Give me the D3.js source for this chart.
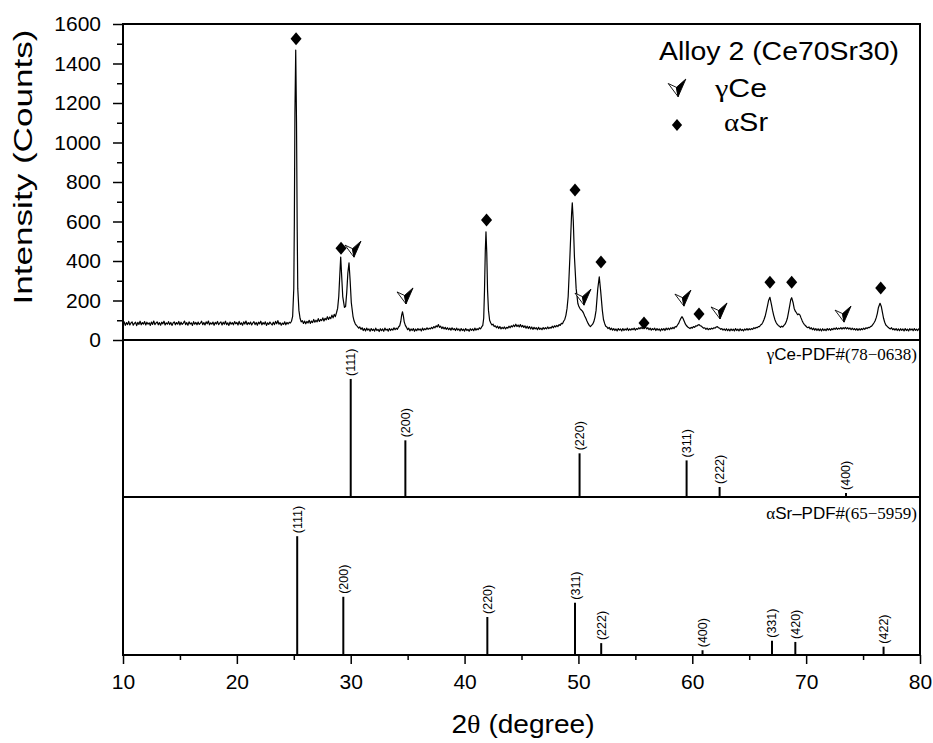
<!DOCTYPE html>
<html>
<head>
<meta charset="utf-8">
<script src="https://cdn.jsdelivr.net/npm/d3@7/dist/d3.min.js"></script>
<style>
  html, body { margin: 0; padding: 0; background: #fff; }
  svg { display: block; }
</style>
</head>
<body>
<svg id="chart" width="933" height="743"></svg>
<script>
// ---------------- DATA ----------------
// Measured XRD pattern, [2θ (deg), counts]
const patternPoints = [
  [10.0,80],[10.1,92],[10.2,74],[10.3,88],[10.4,78],[10.5,94],[10.6,76],[10.7,86],[10.8,92],[10.9,75],
  [11.0,84],[11.1,90],[11.2,73],[11.3,89],[11.4,79],[11.5,95],[11.6,77],[11.7,88],[11.8,81],[11.9,93],
  [12.0,76],[12.1,90],[12.2,80],[12.3,87],[12.4,74],[12.5,91],[12.6,79],[12.7,96],[12.8,78],[12.9,86],
  [13.0,92],[13.1,77],[13.2,88],[13.3,75],[13.4,90],[13.5,82],[13.6,95],[13.7,76],[13.8,87],[13.9,80],
  [14.0,93],[14.1,78],[14.2,89],[14.3,74],[14.4,86],[14.5,92],[14.6,77],[14.7,88],[14.8,80],[14.9,94],
  [15.0,76],[15.1,90],[15.2,79],[15.3,86],[15.4,96],[15.5,78],[15.6,88],[15.7,75],[15.8,92],[15.9,81],
  [16.0,87],[16.1,74],[16.2,93],[16.3,80],[16.4,89],[16.5,77],[16.6,91],[16.7,79],[16.8,86],[16.9,95],
  [17.0,78],[17.1,88],[17.2,76],[17.3,92],[17.4,82],[17.5,96],[17.6,77],[17.7,87],[17.8,80],[17.9,91],
  [18.0,75],[18.1,89],[18.2,81],[18.3,94],[18.4,78],[18.5,86],[18.6,92],[18.7,76],[18.8,90],[18.9,80],
  [19.0,95],[19.1,78],[19.2,87],[19.3,74],[19.4,91],[19.5,80],[19.6,88],[19.7,77],[19.8,93],[19.9,82],
  [20.0,89],[20.1,76],[20.2,94],[20.3,79],[20.4,87],[20.5,75],[20.6,92],[20.7,81],[20.8,96],[20.9,78],
  [21.0,88],[21.1,80],[21.2,91],[21.3,76],[21.4,86],[21.5,93],[21.6,78],[21.7,89],[21.8,75],[21.9,90],
  [22.0,82],[22.1,95],[22.2,77],[22.3,88],[22.4,80],[22.5,92],[22.6,74],[22.7,87],[22.8,79],[22.9,91],
  [23.0,83],[23.1,76],[23.2,90],[23.3,78],[23.4,94],[23.5,82],[23.6,98],[23.7,80],[23.8,88],[23.9,75],
  [24.0,86],[24.1,79],[24.2,92],[24.3,77],[24.4,89],[24.5,81],[24.6,90],[24.7,86],[24.8,95],[24.9,120],
  [25.0,260],[25.05,600],[25.1,1150],[25.17,1468],[25.24,1100],[25.3,560],[25.35,260],[25.45,150],
  [25.55,110],[25.65,92],[25.75,98],[25.85,84],[25.95,96],[26.05,82],[26.15,94],[26.25,86],[26.35,100],
  [26.45,84],[26.55,96],[26.65,88],[26.75,104],[26.85,90],[26.95,100],[27.05,92],[27.15,108],[27.25,94],
  [27.35,104],[27.45,98],[27.55,112],[27.65,96],[27.75,110],[27.85,102],[27.95,118],[28.05,104],[28.15,116],
  [28.25,108],[28.35,126],[28.45,112],[28.55,130],[28.65,118],[28.75,138],[28.85,160],[28.95,220],[29.05,340],
  [29.12,420],[29.2,330],[29.3,220],[29.45,165],[29.55,170],[29.65,240],[29.75,340],[29.85,391],[29.95,300],
  [30.05,190],[30.2,120],[30.3,96],[30.4,82],[30.5,74],[30.6,68],[30.7,60],[30.8,66],[30.9,54],[31.0,62],
  [31.1,48],[31.2,58],[31.3,46],[31.4,60],[31.5,50],[31.6,56],[31.7,44],[31.8,58],[31.9,48],[32.0,55],
  [32.1,45],[32.2,60],[32.3,48],[32.4,54],[32.5,43],[32.6,57],[32.7,47],[32.8,56],[32.9,44],[33.0,60],
  [33.1,50],[33.2,55],[33.3,45],[33.4,58],[33.5,48],[33.6,56],[33.7,50],[33.8,62],[33.9,52],[34.0,60],
  [34.1,54],[34.2,66],[34.3,72],[34.4,95],[34.47,125],[34.55,143],[34.63,120],[34.7,92],[34.8,74],[34.9,64],
  [35.0,52],[35.1,60],[35.2,46],[35.3,56],[35.4,48],[35.5,58],[35.6,44],[35.7,55],[35.8,47],[35.9,58],
  [36.0,50],[36.1,56],[36.2,46],[36.3,60],[36.4,50],[36.5,57],[36.6,52],[36.7,62],[36.8,54],[36.9,60],
  [37.0,56],[37.1,64],[37.2,58],[37.3,68],[37.4,62],[37.5,72],[37.6,66],[37.7,78],[37.8,64],[37.9,70],
  [38.0,58],[38.1,66],[38.2,56],[38.3,64],[38.4,54],[38.5,62],[38.6,52],[38.7,60],[38.8,50],[38.9,62],
  [39.0,52],[39.1,58],[39.2,48],[39.3,60],[39.4,50],[39.5,56],[39.6,46],[39.7,58],[39.8,48],[39.9,55],
  [40.0,45],[40.1,58],[40.2,48],[40.3,54],[40.4,44],[40.5,57],[40.6,49],[40.7,56],[40.8,47],[40.9,60],
  [41.0,50],[41.1,57],[41.2,52],[41.3,62],[41.4,56],[41.5,66],[41.6,74],[41.68,110],[41.75,250],[41.82,450],
  [41.88,548],[41.95,440],[42.02,250],[42.1,150],[42.2,100],[42.3,86],[42.4,76],[42.5,80],[42.6,68],[42.7,72],
  [42.8,62],[42.9,70],[43.0,58],[43.1,68],[43.2,56],[43.3,64],[43.4,58],[43.5,66],[43.6,56],[43.7,64],
  [43.8,60],[43.9,70],[44.0,62],[44.1,72],[44.2,66],[44.3,76],[44.4,68],[44.5,80],[44.6,68],[44.7,76],
  [44.8,66],[44.9,78],[45.0,66],[45.1,74],[45.2,64],[45.3,72],[45.4,60],[45.5,70],[45.6,58],[45.7,68],
  [45.8,56],[45.9,66],[46.0,54],[46.1,64],[46.2,56],[46.3,62],[46.4,52],[46.5,64],[46.6,54],[46.7,60],
  [46.8,52],[46.9,63],[47.0,55],[47.1,62],[47.2,56],[47.3,66],[47.4,58],[47.5,64],[47.6,60],[47.7,70],
  [47.8,62],[47.9,72],[48.0,66],[48.1,74],[48.2,68],[48.3,78],[48.4,74],[48.5,84],[48.6,82],[48.7,95],
  [48.8,104],[48.9,125],[49.0,160],[49.1,220],[49.25,420],[49.4,640],[49.46,695],[49.55,600],[49.65,420],
  [49.8,260],[49.95,185],[50.05,168],[50.15,158],[50.25,152],[50.35,146],[50.45,136],[50.55,122],[50.65,110],
  [50.75,96],[50.85,84],[50.95,74],[51.05,68],[51.15,74],[51.25,80],[51.35,92],[51.45,115],[51.55,150],
  [51.7,260],[51.83,320],[51.95,250],[52.1,150],[52.2,104],[52.3,84],[52.4,70],[52.5,66],[52.6,58],[52.7,64],
  [52.8,52],[52.9,60],[53.0,50],[53.1,58],[53.2,48],[53.3,56],[53.4,46],[53.5,58],[53.6,50],[53.7,56],
  [53.8,46],[53.9,58],[54.0,48],[54.1,56],[54.2,50],[54.3,60],[54.4,48],[54.5,56],[54.6,50],[54.7,58],
  [54.8,52],[54.9,60],[55.0,50],[55.1,58],[55.2,54],[55.3,62],[55.4,56],[55.5,64],[55.6,58],[55.7,66],
  [55.8,60],[55.9,66],[56.0,56],[56.1,62],[56.2,52],[56.3,60],[56.4,50],[56.5,58],[56.6,52],[56.7,60],
  [56.8,48],[56.9,58],[57.0,50],[57.1,56],[57.2,46],[57.3,57],[57.4,50],[57.5,58],[57.6,48],[57.7,60],
  [57.8,52],[57.9,60],[58.0,52],[58.1,62],[58.2,56],[58.3,64],[58.4,58],[58.5,68],[58.6,66],[58.7,76],
  [58.8,84],[58.9,98],[59.0,110],[59.1,118],[59.2,108],[59.3,94],[59.4,80],[59.5,72],[59.6,66],[59.7,62],
  [59.8,58],[59.9,64],[60.0,60],[60.1,68],[60.2,64],[60.3,72],[60.4,70],[60.5,76],[60.6,78],[60.7,72],
  [60.8,70],[60.9,64],[61.0,60],[61.1,62],[61.2,54],[61.3,60],[61.4,52],[61.5,58],[61.6,54],[61.7,60],
  [61.8,56],[61.9,62],[62.0,60],[62.1,66],[62.2,68],[62.3,62],[62.4,60],[62.5,54],[62.6,58],[62.7,50],
  [62.8,56],[62.9,48],[63.0,57],[63.1,47],[63.2,55],[63.3,46],[63.4,56],[63.5,48],[63.6,55],[63.7,46],
  [63.8,58],[63.9,48],[64.0,55],[64.1,46],[64.2,57],[64.3,48],[64.4,54],[64.5,46],[64.6,56],[64.7,50],
  [64.8,58],[64.9,50],[65.0,57],[65.1,52],[65.2,58],[65.3,54],[65.4,62],[65.5,58],[65.6,64],[65.7,62],
  [65.8,68],[65.9,68],[66.0,76],[66.1,80],[66.2,90],[66.3,104],[66.4,120],[66.5,145],[66.6,172],[66.7,200],
  [66.82,216],[66.95,180],[67.05,150],[67.15,125],[67.25,104],[67.35,90],[67.45,80],[67.55,74],[67.65,70],
  [67.75,64],[67.85,70],[67.95,66],[68.05,74],[68.15,80],[68.25,92],[68.35,110],[68.45,140],[68.55,172],
  [68.65,205],[68.73,214],[68.85,190],[68.95,160],[69.05,146],[69.15,138],[69.25,128],[69.35,132],[69.46,126],
  [69.55,112],[69.65,98],[69.75,86],[69.85,78],[69.95,72],[70.05,66],[70.15,62],[70.25,66],[70.35,56],
  [70.45,62],[70.55,52],[70.65,60],[70.75,50],[70.85,58],[70.95,48],[71.05,57],[71.15,47],[71.25,56],
  [71.35,46],[71.45,57],[71.55,48],[71.65,55],[71.75,47],[71.85,58],[71.95,50],[72.05,57],[72.15,49],
  [72.25,58],[72.35,52],[72.45,60],[72.55,54],[72.65,62],[72.75,54],[72.85,60],[72.95,56],[73.05,63],
  [73.15,55],[73.25,62],[73.35,57],[73.45,64],[73.55,56],[73.65,62],[73.75,55],[73.85,61],[73.95,52],
  [74.05,60],[74.15,52],[74.25,58],[74.35,50],[74.45,58],[74.55,49],[74.65,57],[74.75,50],[74.85,58],
  [74.95,52],[75.05,60],[75.15,54],[75.25,62],[75.35,58],[75.45,64],[75.55,62],[75.65,68],[75.75,70],
  [75.85,78],[75.95,86],[76.05,96],[76.15,112],[76.25,134],[76.35,165],[76.49,186],[76.6,170],[76.7,140],
  [76.8,110],[76.9,90],[77.0,76],[77.1,70],[77.2,64],[77.3,60],[77.4,56],[77.5,62],[77.6,52],[77.7,58],
  [77.8,50],[77.9,58],[78.0,48],[78.1,56],[78.2,47],[78.3,57],[78.4,49],[78.5,56],[78.6,46],[78.7,58],
  [78.8,48],[78.9,55],[79.0,46],[79.1,57],[79.2,50],[79.3,56],[79.4,47],[79.5,58],[79.6,49],[79.7,55],
  [79.8,48],[79.9,57],[80.0,52]
];

// Phase markers on the pattern: [2θ, marker height in counts]
const srMarkers = [[25.2,1525],[29.15,465],[41.93,607],[49.7,759],[51.98,395],[55.76,86],[60.59,132],[66.82,293],[68.73,293],[76.55,263]];
const ceMarkers = [[30.2,455],[34.77,218],[50.4,212],[59.18,207],[62.35,142],[73.24,126]];

// Reference patterns (PDF cards)
const ceHkl = ["(111)","(200)","(220)","(311)","(222)","(400)"];
const ceAngles = [30.0, 34.8, 50.1, 59.5, 62.4, 73.5];
const ceRel = [100, 48, 37, 31, 8.5, 3.4];

const srHkl = ["(111)","(200)","(220)","(311)","(222)","(400)","(331)","(420)","(422)"];
const srAngles = [25.3, 29.35, 42.0, 49.7, 52.0, 60.9, 67.0, 69.05, 76.8];
const srRel = [100, 49, 32, 44, 10, 4, 12, 11, 7];

const xTicks = [10, 20, 30, 40, 50, 60, 70, 80];
const yTicks = [0, 200, 400, 600, 800, 1000, 1200, 1400, 1600];

// ---------------- LAYOUT ----------------
const svg = d3.select("#chart");
const L = 123, R = 920;
const topY = 24, sep1 = 340, sep2 = 497, bot = 655;
const sans = "'Liberation Sans', Arial, Helvetica, sans-serif";
const serif = "'Liberation Serif', 'Times New Roman', serif";

const x = d3.scaleLinear().domain([10, 80]).range([L, R]);
const yTop = d3.scaleLinear().domain([0, 1600]).range([sep1, topY]);
const yMid = d3.scaleLinear().domain([0, 133]).range([sep2, sep1]);
const yBot = d3.scaleLinear().domain([0, 133]).range([bot, sep2]);

svg.append("defs").append("clipPath").attr("id", "clipTop")
  .append("rect").attr("x", L).attr("y", topY).attr("width", R - L).attr("height", sep1 - topY);

const line = d3.line().x(d => x(d[0])).y(d => yTop(d[1]));
svg.append("path")
  .datum(patternPoints)
  .attr("clip-path", "url(#clipTop)")
  .attr("d", line)
  .attr("fill", "none")
  .attr("stroke", "#000")
  .attr("stroke-width", 1.2)
  .attr("stroke-linejoin", "round");

function diamond(g, cx, cy, s) {
  g.append("path")
    .attr("d", `M${cx},${cy - s}L${cx + s * 0.85},${cy}L${cx},${cy + s}L${cx - s * 0.85},${cy}Z`)
    .attr("fill", "#000");
}
function ceSymbol(g, cx, cy, k) {
  const A = [cx - 8 * k, cy - 5 * k], B = [cx + 8 * k, cy - 9 * k], N = [cx - 0.5 * k, cy - 1.5 * k], T = [cx + 1 * k, cy + 7 * k];
  g.append("path")
    .attr("d", `M${A}L${N}L${T}Z`)
    .attr("fill", "#fff").attr("stroke", "#000").attr("stroke-width", 0.9).attr("stroke-linejoin", "miter");
  g.append("path")
    .attr("d", `M${B}L${N}L${T}Z`)
    .attr("fill", "#000").attr("stroke", "#000").attr("stroke-width", 0.9);
}
const mk = svg.append("g");
srMarkers.forEach(d => diamond(mk, x(d[0]), yTop(d[1]), 6.5));
ceMarkers.forEach(d => ceSymbol(mk, x(d[0]), yTop(d[1]), 1));

function sticks(hkl, ang, rel, ys) {
  const g = svg.append("g");
  g.selectAll("line").data(ang).enter().append("line")
    .attr("x1", d => x(d)).attr("x2", d => x(d))
    .attr("y1", ys(0)).attr("y2", (d, i) => ys(rel[i]))
    .attr("stroke", "#000").attr("stroke-width", 2);
  g.selectAll("text").data(ang).enter().append("text")
    .attr("transform", (d, i) => `translate(${x(d) + 4.5},${ys(rel[i]) - 3}) rotate(-90)`)
    .attr("font-family", sans).attr("font-size", 12.5)
    .attr("text-anchor", "start")
    .text((d, i) => hkl[i]);
}
sticks(ceHkl, ceAngles, ceRel, yMid);
sticks(srHkl, srAngles, srRel, yBot);

const t1 = svg.append("text").attr("x", 917).attr("y", 360).attr("text-anchor", "end").attr("font-size", 17);
t1.append("tspan").attr("font-family", serif).text("γ");
t1.append("tspan").attr("font-family", sans).text("Ce-PDF#");
t1.append("tspan").attr("font-family", serif).text("(78−0638)");
const t2 = svg.append("text").attr("x", 917).attr("y", 519).attr("text-anchor", "end").attr("font-size", 17);
t2.append("tspan").attr("font-family", serif).text("α");
t2.append("tspan").attr("font-family", sans).text("Sr–PDF#");
t2.append("tspan").attr("font-family", serif).text("(65−5959)");

const frame = svg.append("g").attr("fill", "none").attr("stroke", "#000").attr("stroke-width", 2);
frame.append("rect").attr("x", L).attr("y", topY).attr("width", R - L).attr("height", bot - topY);
frame.append("line").attr("x1", L).attr("x2", R).attr("y1", sep1).attr("y2", sep1);
frame.append("line").attr("x1", L).attr("x2", R).attr("y1", sep2).attr("y2", sep2);

const yAxis = d3.axisLeft(yTop).tickValues(yTicks).tickSize(10).tickPadding(12).tickFormat(d3.format("d"));
const gy = svg.append("g").attr("transform", `translate(${L},0)`).call(yAxis);
gy.select(".domain").remove();
gy.selectAll(".tick line").attr("stroke", "#000").attr("stroke-width", 1.5);
gy.selectAll(".tick text").attr("font-family", sans).attr("font-size", 21).attr("fill", "#000");
const yMinor = d3.axisLeft(yTop).tickValues(d3.range(100, 1600, 200)).tickSize(6).tickFormat("");
const gym = svg.append("g").attr("transform", `translate(${L},0)`).call(yMinor);
gym.select(".domain").remove();
gym.selectAll(".tick line").attr("stroke", "#000").attr("stroke-width", 1.5);

const xAxis = d3.axisBottom(x).tickValues(xTicks).tickSize(9).tickPadding(10).tickFormat(d3.format("d"));
const gx = svg.append("g").attr("transform", `translate(0,${bot})`).call(xAxis);
gx.select(".domain").remove();
gx.selectAll(".tick line").attr("stroke", "#000").attr("stroke-width", 1.5);
gx.selectAll(".tick text").attr("font-family", sans).attr("font-size", 21).attr("fill", "#000");
const xMinor = d3.axisBottom(x).tickValues(d3.range(15, 80, 10)).tickSize(5).tickFormat("");
const gxm = svg.append("g").attr("transform", `translate(0,${bot})`).call(xMinor);
gxm.select(".domain").remove();
gxm.selectAll(".tick line").attr("stroke", "#000").attr("stroke-width", 1.5);

svg.append("text")
  .attr("transform", "translate(31.5,167) rotate(-90)")
  .attr("text-anchor", "middle").attr("font-family", sans).attr("font-size", 26)
  .attr("textLength", 275).attr("lengthAdjust", "spacingAndGlyphs")
  .text("Intensity (Counts)");
const xt = svg.append("text").attr("x", 523).attr("y", 733).attr("text-anchor", "middle").attr("font-size", 26)
  .attr("textLength", 143).attr("lengthAdjust", "spacingAndGlyphs");
xt.append("tspan").attr("font-family", sans).text("2");
xt.append("tspan").attr("font-family", serif).text("θ");
xt.append("tspan").attr("font-family", sans).text(" (degree)");

svg.append("text").attr("x", 659).attr("y", 60).attr("font-family", sans).attr("font-size", 25)
  .attr("textLength", 240).attr("lengthAdjust", "spacingAndGlyphs")
  .text("Alloy 2 (Ce70Sr30)");
ceSymbol(svg, 677, 89, 1.1);
const l1 = svg.append("text").attr("x", 715).attr("y", 97).attr("font-size", 25)
  .attr("textLength", 52).attr("lengthAdjust", "spacingAndGlyphs");
l1.append("tspan").attr("font-family", serif).text("γ");
l1.append("tspan").attr("font-family", sans).text("Ce");
diamond(svg, 677, 125, 6);
const l2 = svg.append("text").attr("x", 724).attr("y", 131).attr("font-size", 25)
  .attr("textLength", 44).attr("lengthAdjust", "spacingAndGlyphs");
l2.append("tspan").attr("font-family", serif).text("α");
l2.append("tspan").attr("font-family", sans).text("Sr");
</script>
</body>
</html>
